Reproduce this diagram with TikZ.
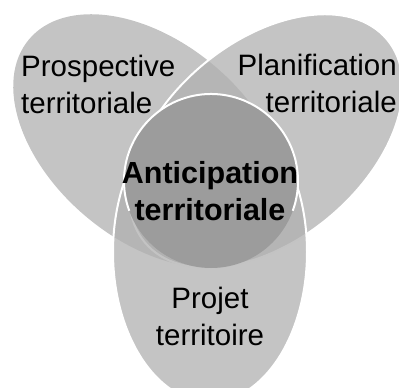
\documentclass[tikz,border=0pt]{standalone}
\usepackage{fontspec}
\setmainfont{Liberation Sans}

\definecolor{petal}{gray}{0.69}
\definecolor{core}{gray}{0.61}

\begin{document}
\begin{tikzpicture}[x=1pt,y=-1pt,
  petal/.style={fill=petal,fill opacity=0.75,line width=2pt},
  rim/.style={draw=white,line width=2pt},
  lbl/.style={font=\fontsize{29.5}{37}\selectfont,inner sep=0pt}]
\useasboundingbox (0,0) rectangle (399,388);

% three petals, then the core on top
\foreach \cx/\cy/\ang/\rx/\ry/\edge in {150/141/-40/158/99/none, 266/141/40/158/99/white, 210/252/0/97/150/white}
\path[petal,draw=\edge,rotate around={\ang:(\cx,\cy)}] (\cx,\cy) ellipse [x radius=\rx, y radius=\ry];

\fill[core] (211,181) circle [radius=87];
\draw[rim] (211,181) ++(-200:87) arc [start angle=-200, end angle=20, radius=87];

\node[lbl,align=left,anchor=base west] (prosp) at (21,113) {Prospective\\territoriale};
\node[lbl,align=right,anchor=base east] (planif) at (397,112) {Planification\\territoriale};
\node[lbl,font=\fontsize{30.5}{37}\selectfont\bfseries,align=center,anchor=base] (antic) at (210,220) {Anticipation\\territoriale};
\node[lbl,align=center,anchor=base] (projet) at (210,345) {Projet\\territoire};

\end{tikzpicture}
\end{document}
